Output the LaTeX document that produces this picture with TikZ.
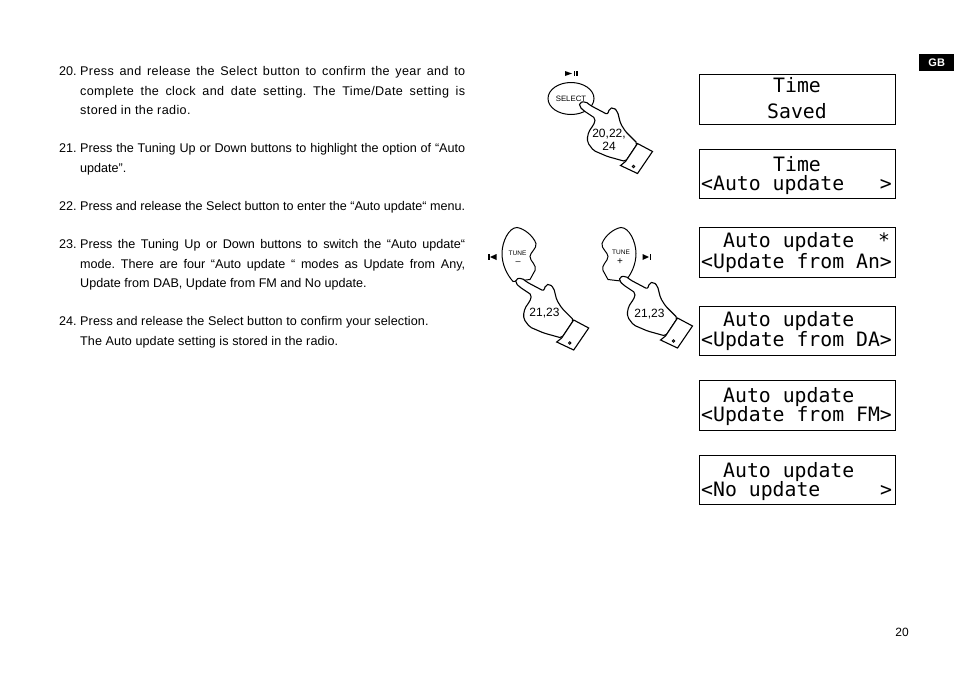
\documentclass[tikz,border=0pt]{standalone}
\usepackage{fontspec}
\setmainfont{Liberation Sans}
\setmonofont{DejaVu Sans Mono}
\frenchspacing
\usetikzlibrary{shapes.geometric}
\tikzset{
  para/.style={anchor=north west,inner sep=0pt,text width=385pt,align=justify,font=\fontsize{12.6}{19.5}\selectfont},
  num/.style={anchor=north west,inner sep=0pt,font=\fontsize{12.6}{19.5}\selectfont},
  lcd/.style={draw,line width=0.9pt,anchor=north west,inner sep=0pt},
  lcdtxt/.style={anchor=base west,inner sep=0pt,font=\ttfamily\fontsize{19.8}{20}\selectfont},
  small/.style={inner sep=0pt,font=\fontsize{6.5}{7}\selectfont},
  press/.style={inner sep=0pt,align=center,font=\fontsize{12}{13.5}\selectfont},
  hand/.pic={
    \draw[fill=white,line width=1.1pt,rounded corners=2pt] (0,-1) -- (6,-2) -- (11,2) -- (28,11) -- (30,5) -- (34,4) -- (38,8)
      -- (41,20) -- (46,28) -- (58,40) -- (46,58) -- (28,53) -- (14,47) -- (8,39) -- (8,32) -- (11,25)
      -- (14,22) -- (16,15) -- (4,7) -- (0,3) -- cycle;
    \draw[fill=white,line width=1.1pt] (58,40) -- (73,48) -- (58,70) -- (41,62) -- (46,58) -- cycle;
    \draw[line width=0.9pt] (54,63) circle (1.2pt);
  },
  tunebtn/.pic={
    \draw[fill=white,line width=1pt] (-19,-28) .. controls (-12,-27) and (-3,-20) .. (0,-12) .. controls (1,-7) and (-6,-3) .. (-6,1)
      .. controls (-6,6) and (1,9) .. (-1,15) -- (-6,24) -- (-23,26) .. controls (-30,18) and (-34,8) .. (-34,-2)
      .. controls (-34,-14) and (-27,-28) .. (-19,-28) -- cycle;
  }
}
\begin{document}
\begin{tikzpicture}[x=1pt,y=-1pt]
\useasboundingbox (0,0) rectangle (954,673);
% instructions
\node[num] (n20) at (59,66.5) {20.};
\node[para] (p20) at (80,66.5) {\addfontfeature{LetterSpace=3}Press and release the Select button to confirm the year and to\linebreak complete the clock and date setting. The Time/Date setting is\linebreak stored in the radio.};
\node[num] (n21) at (59,143.5) {21.};
\node[para] (p21) at (80,143.5) {Press the Tuning Up or Down buttons to highlight the option of “Auto\linebreak update”.};
\node[num] (n22) at (59,201.5) {22.};
\node[para] (p22) at (80,201.5) {Press and release the Select button to enter the “Auto update“ menu.};
\node[num] (n23) at (59,239.5) {23.};
\node[para] (p23) at (80,239.5) {Press the Tuning Up or Down buttons to switch the “Auto update“\linebreak mode. There are four “Auto update “ modes as Update from Any,\linebreak Update from DAB, Update from FM and No update.};
\node[num] (n24) at (59,316.5) {24.};
\node[para] (p24) at (80,316.5) {\addfontfeature{LetterSpace=0.8}Press and release the Select button to confirm your selection.\\The Auto update setting is stored in the radio.};
% select
\fill (565,71) -- (572,73.5) -- (565,76) -- cycle;
\fill (573.5,71) rectangle (575,76);
\fill (576,71) rectangle (577.5,76);
\node[draw,ellipse,line width=1pt,minimum width=46pt,minimum height=32pt,inner sep=0pt,font=\fontsize{7.8}{8}\selectfont] (select) at (571,98.5) {SELECT};
\pic at (579.5,103.5) {hand};
\node[press] (pr1) at (609,140) {20,22,\\24};
% tune
\pic at (536,255.5) {tunebtn};
\pic[xscale=-1] at (602,255.5) {tunebtn};
\fill (488,254) rectangle (489.5,260);
\fill (496.5,254) -- (490,257) -- (496.5,260) -- cycle;
\fill (642.5,254) -- (649,257) -- (642.5,260) -- cycle;
\fill (649.5,254) rectangle (651,260);
\node[small] (tm) at (517.5,253) {TUNE};
\node[font=\fontsize{9}{9}\selectfont,inner sep=0pt] (mn) at (518,263) {--};
\node[small] (tp) at (621,252) {TUNE};
\node[font=\fontsize{10}{10}\selectfont,inner sep=0pt] (pl) at (620,261.5) {+};
\pic at (515.7,280) {hand};
\pic at (619.5,278) {hand};
\node[press] (pr2) at (544.5,313.5) {21,23};
\node[press] (pr3) at (649.5,314) {21,23};
% displays
\node[lcd,minimum width=196pt,minimum height=50pt] (d1) at (699,74) {};
\node[lcd,minimum width=196pt,minimum height=49pt] (d2) at (699,149) {};
\node[lcd,minimum width=196pt,minimum height=50pt] (d3) at (699,227) {};
\node[lcd,minimum width=196pt,minimum height=49pt] (d4) at (699,306) {};
\node[lcd,minimum width=196pt,minimum height=50pt] (d5) at (699,380) {};
\node[lcd,minimum width=196pt,minimum height=49pt] (d6) at (699,455) {};
\node[lcdtxt] (l1a) at (773,92) {Time};
\node[lcdtxt] (l1b) at (767,118) {Saved};
\node[lcdtxt] (l2a) at (773,171) {Time};
\node[lcdtxt] (l2b) at (701,190) {<Auto update\ \ \ >};
\node[lcdtxt] (l3a) at (723,247) {Auto update\ \ *};
\node[lcdtxt] (l3b) at (701,268) {<Update from An>};
\node[lcdtxt] (l4a) at (723,326) {Auto update};
\node[lcdtxt] (l4b) at (701,346) {<Update from DA>};
\node[lcdtxt] (l5a) at (723,402) {Auto update};
\node[lcdtxt] (l5b) at (701,421) {<Update from FM>};
\node[lcdtxt] (l6a) at (723,477) {Auto update};
\node[lcdtxt] (l6b) at (701,496) {<No update\ \ \ \ \ >};
% page marks
\node[fill=black,text=white,anchor=north west,inner sep=0pt,minimum width=35pt,minimum height=17pt,font=\bfseries\fontsize{11}{12}\selectfont] (gb) at (919,54) {GB};
\node[inner sep=0pt,font=\fontsize{12}{13}\selectfont] (pg) at (902,632) {20};
\end{tikzpicture}
\end{document}
